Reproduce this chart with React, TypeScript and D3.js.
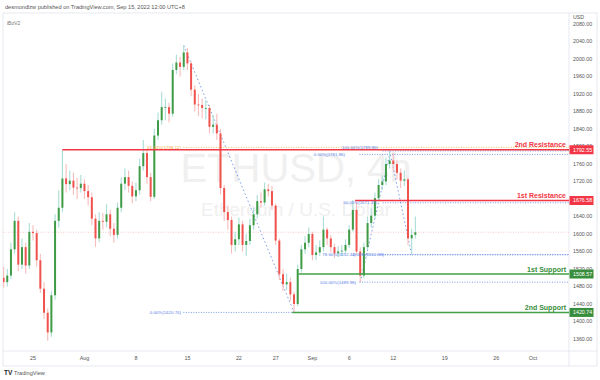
import React from 'react';
import * as d3 from 'd3';

// ---- data (12h candles, from 2022-07-21 00:00 UTC) ----
const START_MS = Date.UTC(2022, 6, 21);
const STEP_MS = 12 * 3600 * 1000;
const FIRST_OPEN = 1500;

const closes = [
  1490, 1505, 1565, 1630, 1530, 1570, 1528, 1605, 1602, 1540,
  1475, 1420, 1375, 1460, 1630, 1660, 1727, 1714, 1722, 1706,
  1705, 1715, 1698, 1684, 1635, 1590, 1630, 1628, 1645, 1612,
  1598, 1660, 1715, 1730, 1710, 1686, 1700, 1755, 1785, 1730,
  1685, 1825, 1860, 1890, 1890, 1875, 1975, 1992, 1982, 2015,
  1990, 1930, 1896, 1895, 1888, 1888, 1845, 1850, 1830, 1705,
  1650, 1632, 1575, 1588, 1622, 1575, 1584, 1620, 1645, 1675,
  1672, 1702, 1698, 1665, 1585, 1508, 1485, 1490, 1462, 1440,
  1520, 1565, 1580, 1600, 1552, 1558, 1570, 1610, 1590, 1570,
  1556, 1560, 1562, 1575, 1610, 1655, 1560, 1505, 1570, 1625,
  1642, 1682, 1712, 1720, 1760, 1768, 1760, 1740, 1722, 1725,
  1590, 1598, 1604,
];
const highs = [
  1525, 1520, 1580, 1650, 1640, 1590, 1580, 1625, 1620, 1610,
  1555, 1490, 1430, 1470, 1645, 1700, 1792, 1760, 1745, 1740,
  1728, 1735, 1725, 1712, 1695, 1645, 1650, 1648, 1668, 1655,
  1625, 1672, 1730, 1750, 1745, 1720, 1718, 1772, 1815, 1795,
  1740, 1840, 1878, 1925, 1910, 1900, 1990, 2010, 2005, 2031,
  2025, 1995, 1940, 1920, 1910, 1905, 1895, 1872, 1875, 1840,
  1712, 1665, 1640, 1605, 1638, 1630, 1600, 1635, 1660, 1690,
  1695, 1718, 1715, 1710, 1670, 1590, 1520, 1510, 1500, 1468,
  1530, 1575, 1595, 1615, 1605, 1575, 1585, 1640, 1615, 1598,
  1578, 1572, 1575, 1588, 1620, 1678, 1672, 1570, 1580, 1640,
  1660, 1695, 1725, 1735, 1775, 1789.86, 1785, 1770, 1750, 1745,
  1730, 1612, 1640,
];
const lows = [
  1478, 1480, 1498, 1555, 1515, 1520, 1510, 1520, 1585, 1525,
  1465, 1405, 1356, 1365, 1450, 1615, 1650, 1695, 1700, 1690,
  1680, 1695, 1680, 1665, 1620, 1570, 1582, 1610, 1615, 1595,
  1580, 1590, 1650, 1700, 1695, 1670, 1675, 1690, 1745, 1715,
  1675, 1680, 1815, 1850, 1860, 1855, 1868, 1965, 1960, 1975,
  1975, 1915, 1880, 1870, 1865, 1862, 1830, 1830, 1815, 1690,
  1630, 1610, 1555, 1560, 1575, 1560, 1550, 1575, 1610, 1635,
  1660, 1665, 1685, 1655, 1575, 1495, 1470, 1472, 1448, 1420.74,
  1435, 1512, 1555, 1570, 1540, 1540, 1550, 1560, 1575, 1558,
  1545, 1548, 1550, 1555, 1568, 1605, 1552, 1489.98, 1500, 1565,
  1615, 1635, 1675, 1700, 1712, 1750, 1745, 1725, 1705, 1710,
  1575, 1552.88, 1590,
];
const LAST_PRICE = 1604;

const priceTicks = [2080, 2040, 2000, 1960, 1920, 1880, 1840, 1800, 1760, 1720, 1680, 1640, 1600, 1560, 1520, 1480, 1440, 1400, 1360];
const timeTickLabels = ['25', 'Aug', '8', '15', '22', '27', 'Sep', '6', '12', '19', '26', 'Oct'];
const timeTickDates = ['2022-07-25', '2022-08-01', '2022-08-08', '2022-08-15', '2022-08-22', '2022-08-27', '2022-09-01', '2022-09-06', '2022-09-12', '2022-09-19', '2022-09-26', '2022-10-01'];

// horizontal support / resistance levels (start given as candle index)
const levelNames = ['2nd Resistance', '1st Resistance', '1st Support', '2nd Support'];
const levelPrices = [1792.55, 1676.58, 1508.57, 1420.74];
const levelStarts = [16, 95.6, 80.3, 78.5];
const levelKinds = ['res', 'res', 'sup', 'sup'];

// fib tools: anchors (candle index, price) and visible levels
const fibAnchors = [
  [[49, 2031], [79, 1420.74]],
  [[105, 1789.86], [111, 1552.88]],
  [[97, 1489.98], [105, 1781.86]],
];
const fibLevelPcts = [
  ['0.00%', '61.80%'],
  ['100.00%', '50.00%', '0.00%'],
  ['0.00%', '78.60%', '100.00%'],
];
const fibLevelPrices = [
  [1420.74, 1798.12],
  [1789.86, 1671.37, 1552.88],
  [1781.86, 1552.44, 1489.98],
];
const fibLevelColors = [
  ['blue', 'orange'],
  ['blue', 'blue', 'blue'],
  ['blue', 'blue', 'blue'],
];
// layout: where each fib's level lines begin (candle index) and where each label ends (px)
const fibLineStart = [48.9, 103.1, 96.8];
const fibLabelEnd = [
  [181, 181],
  [378, 377, 384],
  [345, 356, 356],
];

// ---- layout ----
const W = 600, H = 380;
const PL = 3, PR = 569, PT = 13, PB = 351;
const FONT = '"Liberation Sans", Arial, sans-serif';
const UP = '#3f9b45', DOWN = '#f0534d', UP_WICK = '#a9ddd6', DOWN_WICK = '#f7bcbc';
const RED = '#f23645', GREEN = '#388e3c', BLUE = '#5b82e6', ORANGE = '#f2a93b';

export default function App() {
  const x = d3.scaleUtc()
    .domain([new Date('2022-07-25T00:00:00Z'), new Date('2022-10-01T00:00:00Z')])
    .range([33, 533]);
  const y = d3.scaleLinear().domain([1360, 2080]).range([339, 24]);
  const xi = (i: number) => x(new Date(START_MS + i * STEP_MS));

  const candles = closes.map((c, i) => ({
    o: i === 0 ? FIRST_OPEN : closes[i - 1], c, h: highs[i], l: lows[i], cx: xi(i),
  }));

  const fibColor = (k: string) => (k === 'orange' ? ORANGE : BLUE);

  return (
    <svg width={W} height={H} style={{ position: 'absolute', left: 0, top: 0, background: '#fff' }} fontFamily={FONT}>
      <defs>
        <clipPath id="plot"><rect x={PL} y={PT} width={PR - PL} height={PB - PT} /></clipPath>
      </defs>
      {/* header */}
      <text x={5} y={8.5} fontSize={5.6} fill="#555">desmondlzw published on TradingView.com, Sep 15, 2022 12:00 UTC+8</text>
      {/* frame */}
      <rect x={PL} y={PT} width={597 - PL} height={366 - PT} fill="none" stroke="#e0e3eb" strokeWidth={0.8} />
      <line x1={PR} x2={PR} y1={PT} y2={366} stroke="#e0e3eb" strokeWidth={0.8} />
      <line x1={PL} x2={597} y1={PB} y2={PB} stroke="#e0e3eb" strokeWidth={0.8} />
      <text x={7} y={25} fontSize={5} fill="#777">iBoV2</text>

      {/* watermark */}
      <text x={(PL + PR) / 2 + 10} y={182} fontSize={40} fill="#f0f0f0" textAnchor="middle">ETHUSD, 4h</text>
      <text x={(PL + PR) / 2 + 10} y={216} fontSize={19} fill="#f0f0f0" textAnchor="middle">Ethereum / U.S. Dollar</text>

      <g clipPath="url(#plot)">
        {/* last price line */}
        <line x1={PL} x2={PR} y1={y(LAST_PRICE)} y2={y(LAST_PRICE)} stroke="#f6b3b3" strokeWidth={0.7} strokeDasharray="1,1.5" />

        {/* fib tools */}
        {fibAnchors.map((a, f) => {
          const x0 = xi(fibLineStart[f]);
          return (
            <g key={'fib' + f}>
              <line x1={xi(a[0][0])} y1={y(a[0][1])} x2={xi(a[1][0])} y2={y(a[1][1])} stroke={BLUE} strokeWidth={0.8} strokeDasharray="1.5,2.5" />
              {fibLevelPrices[f].map((p, k) => (
                <line key={k} x1={x0} x2={PR} y1={y(p)} y2={y(p)} stroke={fibColor(fibLevelColors[f][k])} strokeWidth={0.8} strokeDasharray="1,1.5" />
              ))}
            </g>
          );
        })}

        {/* candles */}
        {candles.map((d, i) => {
          const up = d.c >= d.o;
          const top = y(Math.max(d.o, d.c));
          const bot = y(Math.min(d.o, d.c));
          return (
            <g key={i}>
              <line x1={d.cx} x2={d.cx} y1={y(d.h)} y2={y(d.l)} stroke={up ? UP_WICK : DOWN_WICK} strokeWidth={1.1} />
              <rect x={d.cx - 1} y={top} width={2} height={Math.max(0.8, bot - top)} fill={up ? UP : DOWN} />
            </g>
          );
        })}

        {/* support / resistance */}
        {levelPrices.map((p, k) => (
          <line key={'lv' + k} x1={xi(levelStarts[k])} x2={PR} y1={y(p)} y2={y(p)} stroke={levelKinds[k] === 'res' ? RED : '#43a047'} strokeWidth={1.4} />
        ))}

        {/* fib labels */}
        {fibLevelPrices.map((ps, f) => ps.map((p, k) => (
          <text key={'fl' + f + k} x={fibLabelEnd[f][k]} y={y(p) + (f === 1 && k === 0 ? -1.5 : 1.5)} fontSize={4.4} fill={fibColor(fibLevelColors[f][k])} textAnchor="end">
            {`${fibLevelPcts[f][k]}(${p.toFixed(2)})`}
          </text>
        )))}
      </g>

      {levelPrices.map((p, k) => (
        <text key={'lt' + k} x={PR - 3} y={y(p) - 2.5} fontSize={7} fontWeight={600} textAnchor="end" fill={levelKinds[k] === 'res' ? RED : GREEN}>{levelNames[k]}</text>
      ))}

      {/* price axis */}
      <text x={573} y={18.5} fontSize={5.3} fill="#555">USD</text>
      {priceTicks.map((t) => (
        <text key={t} x={573} y={y(t) + 1.9} fontSize={5.3} fill="#555">{t.toFixed(2)}</text>
      ))}
      {levelPrices.map((p, k) => (
        <g key={'tag' + k}>
          <rect x={PR + 0.5} y={y(p) - 4.5} width={24} height={9} fill={levelKinds[k] === 'res' ? RED : GREEN} />
          <text x={573} y={y(p) + 1.9} fontSize={5.3} fill="#fff">{p.toFixed(2)}</text>
        </g>
      ))}

      {/* time axis */}
      {timeTickLabels.map((t, k) => (
        <text key={t + k} x={x(new Date(timeTickDates[k] + 'T00:00:00Z'))} y={360} fontSize={5.4} fill="#555" textAnchor="middle">{t}</text>
      ))}

      {/* footer logo */}
      <text x={4} y={375} fontSize={6.5} fontWeight={700} fill="#222">TV</text>
      <text x={14} y={375} fontSize={5.6} fill="#555">TradingView</text>
    </svg>
  );
}
